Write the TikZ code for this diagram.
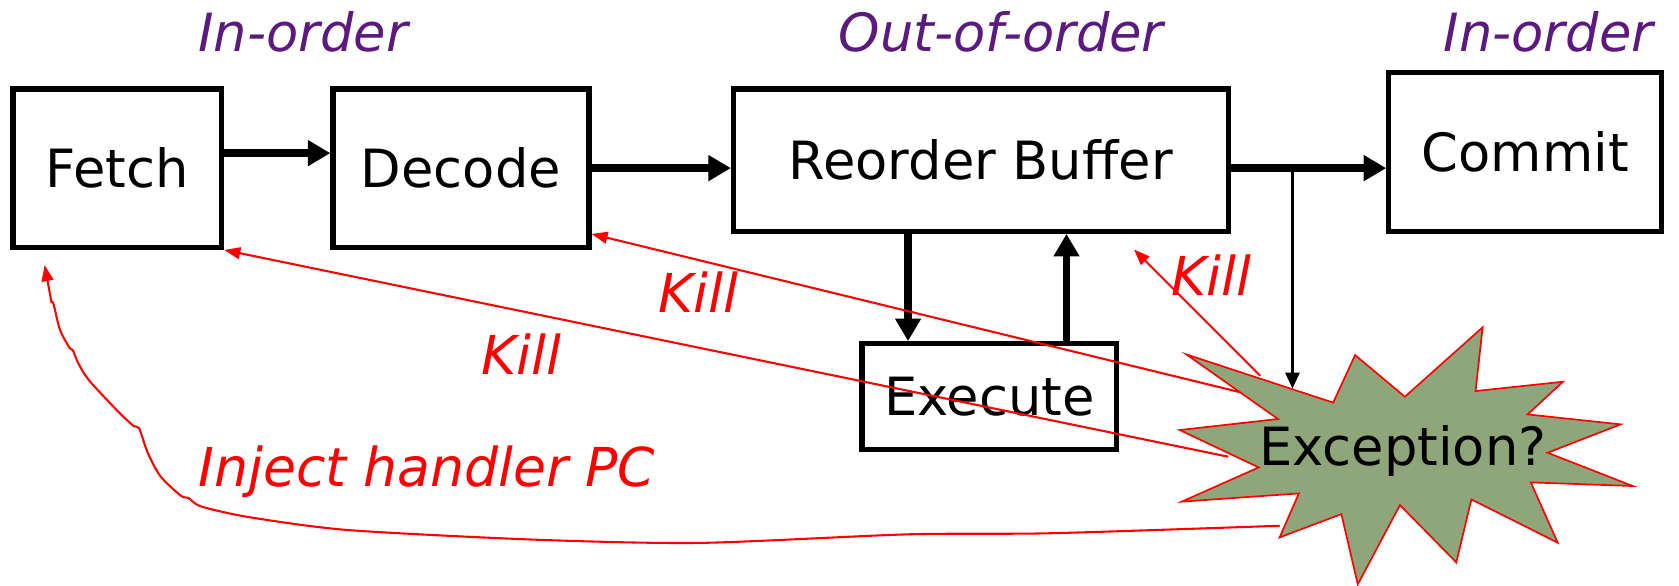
\documentclass[tikz,border=0pt]{standalone}
\usepackage{fontspec}
\setmainfont{DejaVu Sans}
\usetikzlibrary{arrows.meta}
\definecolor{burstgreen}{HTML}{8FA67A}
\definecolor{orderpurple}{HTML}{5A1A7E}
\begin{document}
\begin{tikzpicture}[x=0.02cm,y=-0.02cm,
  stage/.style={draw,line width=2.8pt,inner sep=0pt,font=\fontsize{28}{32}\selectfont},
  bigarrow/.style={line width=3.9pt,-{Triangle[length=0.42cm,width=0.46cm]}},
  thinarrow/.style={line width=1.5pt,-{Triangle[length=0.3cm,width=0.26cm]}},
  killarrow/.style={red,line width=1.1pt,-{Triangle[length=0.3cm,width=0.22cm]}},
  redlabel/.style={red,font=\fontsize{28.5}{32}\selectfont\itshape,anchor=base},
  order/.style={orderpurple,font=\fontsize{28}{32}\selectfont\itshape,anchor=base},
  burst/.style={fill=burstgreen,draw=red,line width=0.9pt}]
\useasboundingbox (0,0) rectangle (1568,547);

% In-order / out-of-order headings
\node[order] (ioleft) at (283,48) {In-order};
\node[order] (ooo) at (935,48) {Out-of-order};
\node[order] (ioright) at (1446,48) {In-order};

% pipeline stages
\node[stage,minimum width=3.9cm,minimum height=2.96cm] (fetch) at (109.5,157) {Fetch};
\node[stage,minimum width=4.78cm,minimum height=2.96cm] (decode) at (430.5,157) {Decode};
\node[stage,minimum width=9.24cm,minimum height=2.66cm] (rob) at (916,149.5) {Reorder Buffer};
\node[stage,minimum width=5.1cm,minimum height=2.96cm] (commit) at (1424.5,142) {Commit};
\node[stage,minimum width=4.76cm,minimum height=1.98cm] (exec) at (924,370.5) {Execute};

% forward path
\draw[bigarrow] ([yshift=0.28cm]fetch.east) -- ([yshift=0.28cm]decode.west);
\draw[bigarrow] (decode.east) -- (decode.east -| rob.west);
\draw[bigarrow] (rob.east |- decode.east) -- (commit.west |- decode.east);
\draw[bigarrow] ([xshift=-1.52cm]exec.north |- rob.south) -- ([xshift=-1.52cm]exec.north);
\draw[bigarrow] ([xshift=1.44cm]exec.north) -- ([xshift=1.44cm]exec.north |- rob.south);

% points on the starburst
\coordinate (tap) at (1207,157);
\coordinate (exctop) at (1207,363);
\coordinate (k1) at (1147,426.5);
\coordinate (k2) at (1157,366);
\coordinate (k3) at (1177,351);
\coordinate (robkill) at (1059,233);
\coordinate (inj) at (1195,491);
\coordinate (pcin) at (41.7,247.5);

% kill signals
\draw[killarrow] (k1) -- (fetch.south east);
\draw[killarrow] (k2) -- ([yshift=0.3cm]decode.south east);
\draw[killarrow] (k3) -- (robkill);
\draw[killarrow] plot[smooth,tension=0.45] coordinates {(inj) (981,498) (848,499) (654,507) (500,504) (325,495) (233,483) (188,473) (176,465) (169,463) (150,445) (138,423) (130,400) (125,398) (110,384) (83,355) (73,339) (68,327) (65,325) (56,308) (50,284) (48,282)} -- (pcin);

\node[redlabel] (kill1) at (652,292) {Kill};
\node[redlabel] (kill2) at (487,350) {Kill};
\node[redlabel] (kill3) at (1131,276) {Kill};
\node[redlabel,anchor=base west] (injlabel) at (179,454.5) {Inject handler PC};

% exception starburst
\draw[burst] (1108,331) -- (1245,376) -- (1265.5,331.6) -- (1312,370.5) -- (1384.6,305.7)
  -- (1378,365.2) -- (1459.6,356.5) -- (1426.6,387) -- (1513.5,396.3) -- (1445.3,422.8)
  -- (1524.8,453.9) -- (1429.6,450.5) -- (1454.7,506.8) -- (1374.1,466.4) -- (1360,525.2)
  -- (1307.4,471.7) -- (1268,545.7) -- (1252.7,480.1) -- (1195,501.9) -- (1213,460.8)
  -- (1103.6,468.5) -- (1175.5,436.5) -- (1101.7,401.6) -- (1193.5,391.3) -- cycle;
\draw[thinarrow] (tap) -- (exctop);
\node[font=\fontsize{28}{32}\selectfont] (exc) at (1310,421) {Exception?};
\end{tikzpicture}
\end{document}
